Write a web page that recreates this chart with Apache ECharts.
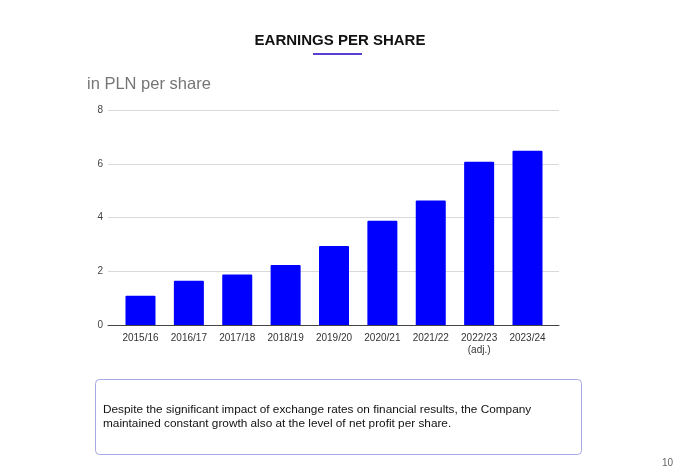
<!DOCTYPE html>
<html>
<head>
<meta charset="utf-8">
<script src="https://cdn.jsdelivr.net/npm/echarts@6/dist/echarts.min.js"></script>
<style>
  html, body { margin: 0; padding: 0; background: #fff; }
  #main { width: 680px; height: 475px; }
</style>
</head>
<body>
<div id="main"></div>
<script>
var years = ['2015/16', '2016/17', '2017/18', '2018/19', '2019/20', '2020/21', '2021/22', '2022/23\n(adj.)', '2023/24'];
var eps = [1.09, 1.65, 1.88, 2.23, 2.94, 3.88, 4.63, 6.07, 6.48];
var yTicks = { min: 0, max: 8, interval: 2 };

var font = 'Arial, "Liberation Sans", sans-serif';

var myChart = echarts.init(document.getElementById('main'));

var option = {
    backgroundColor: '#fff',
    animation: false,
    title: {
        text: 'EARNINGS PER SHARE',
        left: 'center',
        top: 28,
        textStyle: { fontFamily: font, fontSize: 15, fontWeight: 'bold', color: '#111' }
    },
    grid: [
        // full-width frame for grid lines and baseline
        { left: 108, right: 121, top: 110, bottom: 150 },
        // inner area holding the bars (chart has side padding)
        { left: 116.3, right: 128.3, top: 110, bottom: 150 }
    ],
    xAxis: [
        {
            gridIndex: 0,
            type: 'value',
            min: 0,
            max: 1,
            axisLine: { show: true, onZero: false, lineStyle: { color: '#444', width: 1 } },
            axisTick: { show: false },
            axisLabel: { show: false },
            splitLine: { show: false }
        },
        {
            gridIndex: 1,
            type: 'category',
            data: years,
            axisLine: { show: false },
            axisTick: { show: false },
            axisLabel: {
                margin: 7,
                fontFamily: font,
                fontSize: 10,
                lineHeight: 12,
                color: '#333'
            }
        }
    ],
    yAxis: [
        {
            gridIndex: 0,
            type: 'value',
            min: yTicks.min,
            max: yTicks.max,
            interval: yTicks.interval,
            axisLine: { show: false },
            axisTick: { show: false },
            axisLabel: { margin: 5, fontFamily: font, fontSize: 10, color: '#444' },
            splitLine: { lineStyle: { color: '#d9d9d9', width: 1 } }
        },
        {
            gridIndex: 1,
            type: 'value',
            min: yTicks.min,
            max: yTicks.max,
            show: false,
            splitLine: { show: false }
        }
    ],
    series: [{
        name: 'EPS',
        type: 'bar',
        xAxisIndex: 1,
        yAxisIndex: 1,
        data: eps,
        barWidth: 30,
        itemStyle: { color: '#0000ff', borderRadius: [1, 1, 0, 0] }
    }],
    graphic: [
        {
            type: 'rect',
            shape: { x: 313, y: 53, width: 49, height: 2 },
            style: { fill: '#5a3fd0' }
        },
        {
            type: 'text',
            left: 87,
            top: 76,
            style: { text: 'in PLN per share', font: '16.5px ' + font, fill: '#757575' }
        },
        {
            type: 'rect',
            shape: { x: 95.5, y: 379.5, width: 486, height: 75, r: 4 },
            style: { fill: '#fff', stroke: '#a4a8e4', lineWidth: 1 }
        },
        {
            type: 'text',
            left: 103,
            top: 403,
            style: {
                text: 'Despite the significant impact of exchange rates on financial results, the Company\nmaintained constant growth also at the level of net profit per share.',
                font: '11.8px ' + font,
                lineHeight: 14,
                fill: '#111'
            }
        },
        {
            type: 'text',
            left: 662,
            top: 458,
            style: { text: '10', font: '10px ' + font, fill: '#666' }
        }
    ]
};

myChart.setOption(option);
</script>
</body>
</html>
